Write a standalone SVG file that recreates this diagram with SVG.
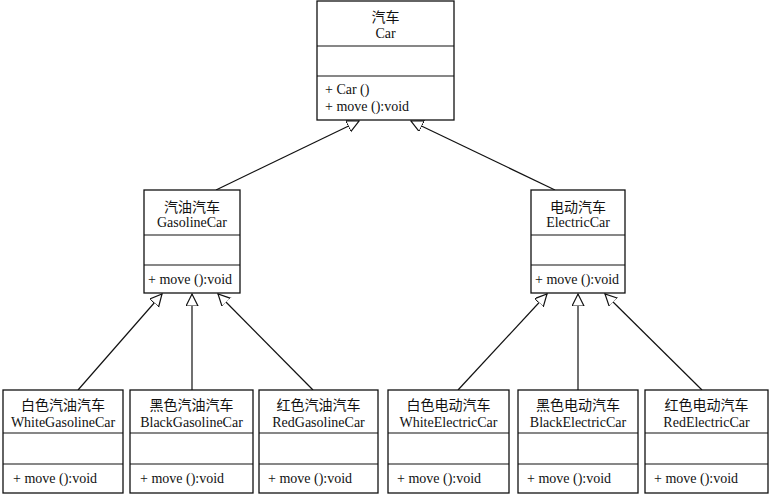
<svg xmlns="http://www.w3.org/2000/svg" width="770" height="497" viewBox="0 0 770 497">
<style>
.box{fill:#fff;stroke:#111;stroke-width:1.3}
.div{stroke:#111;stroke-width:1.2}
text{font-family:"Liberation Serif","Noto Sans CJK SC",serif;font-size:14px;fill:#111}
.c{text-anchor:middle}
.conn line{stroke:#111;stroke-width:1.2;marker-end:url(#tri)}
</style>
<defs>
<marker id="tri" markerUnits="userSpaceOnUse" markerWidth="14" markerHeight="14" refX="12" refY="6" orient="auto" viewBox="0 0 14 14">
<path d="M0,0 L12,6 L0,12 Z" fill="#fff" stroke="#111" stroke-width="1.2"/>
</marker>
</defs>
<rect width="770" height="497" fill="#fff"/>
<g class="conn" id="connectors">
<line x1="216" y1="190" x2="359" y2="121"/>
<line x1="555" y1="190" x2="411" y2="121"/>
<line x1="78" y1="390" x2="162" y2="294"/>
<line x1="192" y1="390" x2="192" y2="294"/>
<line x1="313" y1="390" x2="218" y2="294"/>
<line x1="458" y1="390" x2="547" y2="294"/>
<line x1="578" y1="390" x2="578" y2="294"/>
<line x1="702" y1="390" x2="605" y2="294"/>
</g>
<g id="car">
<rect class="box" x="317" y="1" width="137" height="119"/>
<line class="div" x1="317" y1="46" x2="454" y2="46"/>
<line class="div" x1="317" y1="76" x2="454" y2="76"/>
<text class="c" x="385.5" y="22">汽车</text>
<text class="c" x="385.5" y="38">Car</text>
<text x="325" y="94">+ Car ()</text>
<text x="325" y="111">+ move ():void</text>
</g>
<g id="gasolineCar">
<rect class="box" x="144" y="190" width="96" height="103"/>
<line class="div" x1="144" y1="235" x2="240" y2="235"/>
<line class="div" x1="144" y1="265" x2="240" y2="265"/>
<text class="c" x="192" y="212">汽油汽车</text>
<text class="c" x="192" y="227">GasolineCar</text>
<text x="148" y="284">+ move ():void</text>
</g>
<g id="electricCar">
<rect class="box" x="531" y="190" width="94" height="103"/>
<line class="div" x1="531" y1="235" x2="625" y2="235"/>
<line class="div" x1="531" y1="265" x2="625" y2="265"/>
<text class="c" x="578" y="212">电动汽车</text>
<text class="c" x="578" y="227">ElectricCar</text>
<text x="535" y="284">+ move ():void</text>
</g>
<g id="whiteGasolineCar">
<rect class="box" x="3" y="390" width="120" height="103"/>
<line class="div" x1="3" y1="433" x2="123" y2="433"/>
<line class="div" x1="3" y1="464" x2="123" y2="464"/>
<text class="c" x="63" y="410">白色汽油汽车</text>
<text class="c" x="63" y="427">WhiteGasolineCar</text>
<text x="13" y="483">+ move ():void</text>
</g>
<g id="blackGasolineCar">
<rect class="box" x="130" y="390" width="123" height="103"/>
<line class="div" x1="130" y1="433" x2="253" y2="433"/>
<line class="div" x1="130" y1="464" x2="253" y2="464"/>
<text class="c" x="191.5" y="410">黑色汽油汽车</text>
<text class="c" x="191.5" y="427">BlackGasolineCar</text>
<text x="140" y="483">+ move ():void</text>
</g>
<g id="redGasolineCar">
<rect class="box" x="259" y="390" width="119" height="103"/>
<line class="div" x1="259" y1="433" x2="378" y2="433"/>
<line class="div" x1="259" y1="464" x2="378" y2="464"/>
<text class="c" x="318.5" y="410">红色汽油汽车</text>
<text class="c" x="318.5" y="427">RedGasolineCar</text>
<text x="268" y="483">+ move ():void</text>
</g>
<g id="whiteElectricCar">
<rect class="box" x="388" y="390" width="121" height="103"/>
<line class="div" x1="388" y1="433" x2="509" y2="433"/>
<line class="div" x1="388" y1="464" x2="509" y2="464"/>
<text class="c" x="448.5" y="410">白色电动汽车</text>
<text class="c" x="448.5" y="427">WhiteElectricCar</text>
<text x="397" y="483">+ move ():void</text>
</g>
<g id="blackElectricCar">
<rect class="box" x="518" y="390" width="120" height="103"/>
<line class="div" x1="518" y1="433" x2="638" y2="433"/>
<line class="div" x1="518" y1="464" x2="638" y2="464"/>
<text class="c" x="578" y="410">黑色电动汽车</text>
<text class="c" x="578" y="427">BlackElectricCar</text>
<text x="527" y="483">+ move ():void</text>
</g>
<g id="redElectricCar">
<rect class="box" x="645" y="390" width="123" height="103"/>
<line class="div" x1="645" y1="433" x2="768" y2="433"/>
<line class="div" x1="645" y1="464" x2="768" y2="464"/>
<text class="c" x="706.5" y="410">红色电动汽车</text>
<text class="c" x="706.5" y="427">RedElectricCar</text>
<text x="654" y="483">+ move ():void</text>
</g>
</svg>
